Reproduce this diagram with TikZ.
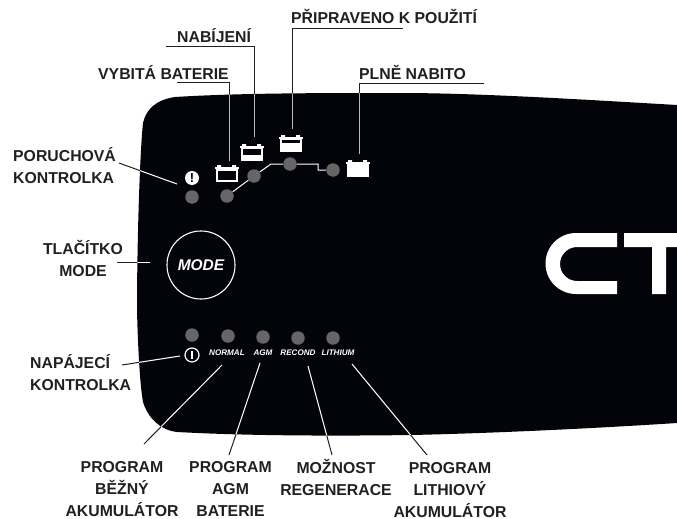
\documentclass[tikz,border=0pt]{standalone}
\usepackage{fontspec}
\setmainfont{Liberation Sans}
\definecolor{panel}{HTML}{03040A}
\definecolor{ink}{HTML}{231F20}
\definecolor{led}{HTML}{666666}
\newcommand{\lblfont}{\fontsize{15.8}{21.8}\selectfont\bfseries}
\newcommand{\panelpath}{(677,105) .. controls (590,100) and (480,93) .. (400,93)
  .. controls (320,93) and (240,93) .. (175,97)
  .. controls (155,100) and (146,110) .. (143,123)
  .. controls (140,150) and (137,240) .. (137,310)
  .. controls (138,350) and (140,385) .. (143,402)
  .. controls (148,418) and (160,430) .. (177,432)
  .. controls (250,436) and (340,436) .. (412,435)
  .. controls (500,433) and (600,428) .. (677,423) -- cycle}
% battery: left x, top y of the cap, dark band from/to
\newcommand{\battery}[4]{
  \fill[white] (#1+2,#2-2) rectangle (#1+6,#2) (#1+17,#2-2) rectangle (#1+21,#2);
  \fill[white] (#1,#2) rectangle (#1+23.5,#2+2);
  \fill[white] (#1+1,#2+2) rectangle (#1+22.5,#2+15);
  \fill[panel] (#1+3,#2+#3) rectangle (#1+20.5,#2+#4);
}
% all leaders in the given colours
\newcommand{\leaderset}[2]{
  \foreach \p/\q in {a1/a2,b1/b2,c1/c2,d1/d2}
    \draw[leader,draw=#1] (\p) -| (\q);
  \foreach \p/\q in {e1/e2,f1/f2,g1/g2,h1/h2,i1/i2,j1/j2,k1/k2}
    \draw[leader,draw=#2] (\p) -- (\q);
}
\begin{document}
\begin{tikzpicture}[x=1pt,y=-1pt,
  every node/.style={inner sep=0pt},
  lbl/.style={font=\lblfont,text=ink,align=center,anchor=base},
  lblleft/.style={font=\lblfont,text=ink,align=left,anchor=base west},
  ledlamp/.style={circle,fill=led,minimum size=13.5pt},
  tiny/.style={font=\fontsize{8.1}{8.1}\selectfont\bfseries\itshape,text=white,anchor=base},
  leader/.style={line width=1pt}]
\useasboundingbox (0,0) rectangle (677,519);
\fill[panel] \panelpath;

% logo
\fill[white] (617,233) -- (576,233) arc (270:90:30.5) -- (617,294) -- (617,281)
  -- (577,281) arc (90:270:17) -- (617,247) -- cycle;
\fill[white] (624,233) -- (677,233) -- (677,247) -- (666,247) -- (666,294)
  -- (652,294) -- (652,247) -- (624,247) -- cycle;

% batteries
\battery{215}{167}{3.5}{13}
\battery{240}{146}{2.5}{9}
\battery{279}{137}{2.5}{6}
\battery{346}{162}{15}{15}

% lamps
\node[ledlamp] (fault) at (192,197) {};
\node[ledlamp] (low) at (227,196) {};
\node[ledlamp] (charge) at (254,176) {};
\node[ledlamp] (ready) at (290,164) {};
\node[ledlamp] (full) at (333,170) {};
\node[ledlamp] (power) at (192,335) {};
\node[ledlamp] (normal) at (228,336) {};
\node[ledlamp] (agm) at (263,337) {};
\node[ledlamp] (recond) at (298,338) {};
\node[ledlamp] (lithium) at (333,338) {};
\coordinate (s1) at (271,164);
\coordinate (s2) at (318,164);
\coordinate (s3) at (318,170);
\draw[white,line width=1pt] (low) -- (charge) -- (s1) -- (ready) -- (s2) -- (s3) -- (full);

% icons
\node[circle,fill=white,minimum size=14pt,font=\fontsize{13}{13}\selectfont\bfseries,text=panel] (warn) at (192,178) {!};
\node[circle,draw=white,line width=1.2pt,fill=panel,minimum size=14pt] (on) at (192,355) {};
\draw[white,line width=1.2pt] (192,351) -- (192,359);
\node[circle,draw=white,line width=1.1pt,minimum size=68pt,font=\fontsize{15.5}{15.5}\selectfont\bfseries\itshape,text=white] (mode) at (201,265) {MODE};
\node[tiny] (tnormal) at (227,355) {NORMAL};
\node[tiny] (tagm) at (263,355) {AGM};
\node[tiny] (trecond) at (298,355) {RECOND};
\node[tiny] (tlithium) at (338,355) {LITHIUM};

% labels
\node[lblleft] (lvybita) at (98,79) {VYBITÁ BATERIE};
\node[lblleft] (lnabijeni) at (177,43) {NABÍJENÍ};
\node[lblleft] (lpripraveno) at (291,24) {PŘIPRAVENO K POUŽITÍ};
\node[lblleft] (lplne) at (359,79) {PLNĚ NABITO};
\node[lblleft] (lporucha) at (13,183) {PORUCHOVÁ\\KONTROLKA};
\node[lbl] (lmode) at (83,276) {TLAČÍTKO\\MODE};
\node[lblleft] (lnapajeci) at (30,390) {NAPÁJECÍ\\KONTROLKA};
\node[lbl] (lbezny) at (122,516) {PROGRAM\\BĚŽNÝ\\AKUMULÁTOR};
\node[lbl] (lagm) at (230.5,516.5) {PROGRAM\\AGM\\BATERIE};
\node[lbl] (lregen) at (336,495) {MOŽNOST\\REGENERACE};
\node[lbl] (llith) at (450,517) {PROGRAM\\LITHIOVÝ\\AKUMULÁTOR};

% leader ends
\coordinate (a1) at (177,82);   \coordinate (a2) at (229,161);
\coordinate (b1) at (166,47);   \coordinate (b2) at (254,137);
\coordinate (c1) at (403,29);   \coordinate (c2) at (292,129);
\coordinate (d1) at (484,83);   \coordinate (d2) at (359,154);
\coordinate (e1) at (119,163);  \coordinate (e2) at (177,184);
\coordinate (f1) at (117,262);  \coordinate (f2) at (150,262);
\coordinate (g1) at (122,365);  \coordinate (g2) at (180,356);
\coordinate (h1) at (222,365);  \coordinate (h2) at (144,444);
\coordinate (i1) at (260,363);  \coordinate (i2) at (229,455);
\coordinate (j1) at (308,366);  \coordinate (j2) at (332,455);
\coordinate (k1) at (352,364);  \coordinate (k2) at (427,455);

% leaders, dark outside the panel and light on it
\leaderset{ink}{ink}
\begin{scope}
  \clip \panelpath;
  \leaderset{gray!55}{white}
\end{scope}
\end{tikzpicture}
\end{document}
